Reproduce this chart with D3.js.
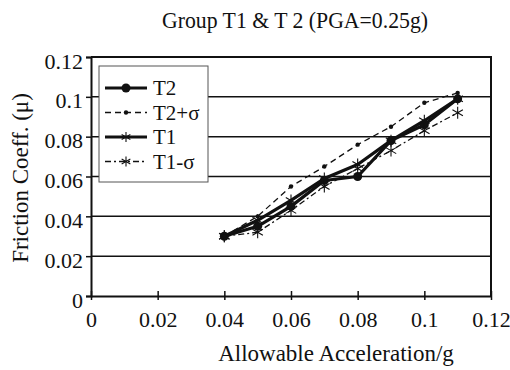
<!DOCTYPE html>
<html>
<head>
<meta charset="utf-8">
<script src="https://cdn.jsdelivr.net/npm/d3@7"></script>
<style>
  body { margin: 0; background: #fff; }
</style>
</head>
<body>
<svg width="510" height="370"></svg>
<script>
// data
const accel = [0.04, 0.05, 0.06, 0.07, 0.08, 0.09, 0.1, 0.11];
const t2 = [0.030, 0.035, 0.045, 0.058, 0.060, 0.078, 0.086, 0.099];
const t2PlusSigma = [0.030, 0.040, 0.055, 0.065, 0.076, 0.085, 0.097, 0.102];
const t1 = [0.030, 0.038, 0.048, 0.059, 0.066, 0.078, 0.088, 0.099];
const t1MinusSigma = [0.030, 0.032, 0.043, 0.055, 0.064, 0.073, 0.083, 0.092];
const xTicks = [0, 0.02, 0.04, 0.06, 0.08, 0.1, 0.12];
const yTicks = [0, 0.02, 0.04, 0.06, 0.08, 0.1, 0.12];

const series = [
  {name: 'T2', values: t2, width: 3.2, dash: null, marker: 'dot', r: 4.5},
  {name: 'T2+σ', values: t2PlusSigma, width: 1.3, dash: '6,4', marker: 'dot', r: 2.2},
  {name: 'T1', values: t1, width: 3.2, dash: null, marker: 'star'},
  {name: 'T1-σ', values: t1MinusSigma, width: 1.3, dash: '6,3,2,3', marker: 'star'}
];

const serif = 'Liberation Serif';
const fmt = d => d === 0 ? '0' : String(+d.toFixed(2));

const svg = d3.select('svg');
const margin = {left: 91, right: 19, top: 57, bottom: 74};
const width = 510 - margin.left - margin.right;
const height = 370 - margin.top - margin.bottom;

const x = d3.scaleLinear().domain([0, 0.12]).range([0, width]);
const y = d3.scaleLinear().domain([0, 0.12]).range([height, 0]);

const g = svg.append('g').attr('transform', `translate(${margin.left},${margin.top})`);

// gridlines
g.selectAll('.grid').data(yTicks.filter(d => d > 0 && d < 0.12)).enter()
  .append('line')
  .attr('x1', 0).attr('x2', width)
  .attr('y1', d => y(d)).attr('y2', d => y(d))
  .attr('stroke', '#111').attr('stroke-width', 1.5);

// frame top / right
g.append('path')
  .attr('d', `M0,0H${width}V${height}`)
  .attr('fill', 'none').attr('stroke', '#111').attr('stroke-width', 2);

// axes
const yAxis = g.append('g')
  .call(d3.axisLeft(y).tickValues(yTicks).tickFormat(fmt).tickSize(5).tickPadding(3));
const xAxis = g.append('g').attr('transform', `translate(0,${height})`)
  .call(d3.axisBottom(x).tickValues(xTicks).tickFormat(fmt).tickSize(0).tickPadding(15));
[yAxis, xAxis].forEach(a => {
  a.attr('font-family', null).attr('font-size', null);
  a.select('.domain').attr('stroke', '#111').attr('stroke-width', 2);
  a.selectAll('.tick line').attr('stroke', '#111').attr('stroke-width', 1.5);
  a.selectAll('.tick text')
    .style('font-family', serif).style('font-size', '22px').attr('fill', '#111');
});
yAxis.selectAll('.tick text').attr('dy', '0.5em');
xAxis.selectAll('.tick').append('line')
  .attr('y1', -5).attr('y2', 4).attr('stroke', '#111').attr('stroke-width', 1.5);

const line = d3.line().x((d, i) => x(accel[i])).y(d => y(d));

function star(sel, size) {
  const s = size;
  sel.append('path')
    .attr('d', `M0,${-s}V${s}M${-s * 0.87},${-s / 2}L${s * 0.87},${s / 2}M${-s * 0.87},${s / 2}L${s * 0.87},${-s / 2}`)
    .attr('stroke', '#111').attr('stroke-width', 1.1).attr('fill', 'none');
}

series.forEach(s => {
  g.append('path').datum(s.values)
    .attr('d', line)
    .attr('fill', 'none').attr('stroke', '#111')
    .attr('stroke-width', s.width)
    .attr('stroke-dasharray', s.dash)
    .attr('stroke-linejoin', 'round');
  const pts = g.selectAll(null).data(s.values).enter().append('g')
    .attr('transform', (d, i) => `translate(${x(accel[i])},${y(d)})`);
  if (s.marker === 'dot') {
    pts.append('circle').attr('r', s.r).attr('fill', '#111');
  } else {
    star(pts, 6);
  }
});

// legend
const leg = svg.append('g').attr('transform', 'translate(99,66)');
leg.append('rect').attr('width', 109).attr('height', 116)
  .attr('fill', '#fff').attr('stroke', '#555').attr('stroke-width', 1);
series.forEach((s, i) => {
  const row = leg.append('g').attr('transform', `translate(0,${22 + i * 24.5})`);
  row.append('line').attr('x1', 6).attr('x2', 48)
    .attr('stroke', '#111').attr('stroke-width', s.width).attr('stroke-dasharray', s.dash);
  const m = row.append('g').attr('transform', 'translate(27,0)');
  if (s.marker === 'dot') m.append('circle').attr('r', s.r).attr('fill', '#111');
  else star(m, 5);
  row.append('text').attr('x', 54).attr('y', 7)
    .style('font-family', serif).style('font-size', '21px').attr('fill', '#111').text(s.name);
});

// titles
svg.append('text').attr('x', 295).attr('y', 28).attr('text-anchor', 'middle')
  .style('font-family', serif).style('font-size', '23px').attr('fill', '#111')
  .attr('textLength', 266).attr('lengthAdjust', 'spacingAndGlyphs')
  .text('Group T1 & T 2 (PGA=0.25g)');
svg.append('text').attr('x', 336).attr('y', 361).attr('text-anchor', 'middle')
  .style('font-family', serif).style('font-size', '23px').attr('fill', '#111')
  .text('Allowable Acceleration/g');
svg.append('text').attr('transform', 'translate(28,178) rotate(-90)').attr('text-anchor', 'middle')
  .style('font-family', serif).style('font-size', '23px').attr('fill', '#111')
  .text('Friction Coeff.  (μ)');
</script>
</body>
</html>
